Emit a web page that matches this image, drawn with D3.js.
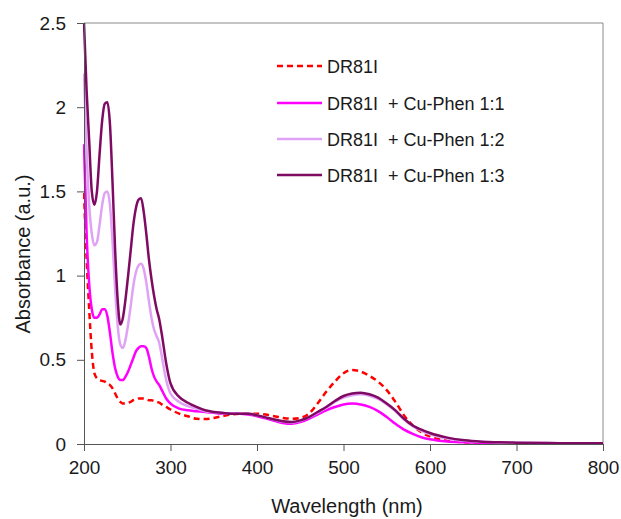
<!DOCTYPE html>
<html><head><meta charset="utf-8">
<script src="https://cdn.jsdelivr.net/npm/d3@7"></script>
<style>body{margin:0;background:#fff}svg{display:block}text{font-family:"Liberation Sans",Arial,sans-serif;fill:#1a1a1a}</style>
</head><body><svg id="c" width="621" height="519"></svg>
<script>
const wavelength = [200,203,206,209,212,215,218,221,224,227,230,233,236,239,242,245,248,251,254,257,260,263,266,269,272,275,278,281,284,287,290,295,300,310,320,330,340,350,360,370,380,390,400,410,420,430,440,450,460,470,480,490,500,510,520,530,540,550,560,570,580,590,600,620,640,660,680,700,750,800];
const dr81 = [1.49,1.1,0.8,0.55,0.42,0.39,0.38,0.375,0.37,0.36,0.35,0.33,0.3,0.27,0.25,0.24,0.24,0.245,0.25,0.26,0.265,0.27,0.27,0.27,0.265,0.26,0.26,0.255,0.25,0.245,0.235,0.22,0.205,0.18,0.165,0.15,0.148,0.155,0.165,0.175,0.18,0.18,0.18,0.175,0.165,0.155,0.15,0.155,0.18,0.24,0.31,0.37,0.42,0.44,0.43,0.405,0.37,0.32,0.25,0.17,0.11,0.07,0.045,0.02,0.01,0.007,0.005,0.004,0.003,0.003];
const cu11 = [1.78,1.25,0.95,0.8,0.75,0.75,0.77,0.8,0.8,0.76,0.66,0.54,0.45,0.4,0.38,0.38,0.4,0.43,0.47,0.51,0.55,0.57,0.58,0.58,0.57,0.52,0.45,0.4,0.37,0.35,0.32,0.27,0.24,0.21,0.2,0.195,0.19,0.185,0.18,0.18,0.18,0.175,0.165,0.152,0.138,0.125,0.12,0.13,0.15,0.175,0.2,0.22,0.235,0.24,0.235,0.22,0.195,0.16,0.12,0.085,0.06,0.04,0.028,0.015,0.01,0.007,0.005,0.004,0.003,0.003];
const cu12 = [2.2,1.75,1.42,1.25,1.18,1.2,1.3,1.42,1.49,1.5,1.42,1.2,0.92,0.7,0.59,0.57,0.62,0.71,0.82,0.94,1.02,1.06,1.07,1.04,0.96,0.85,0.75,0.68,0.64,0.6,0.52,0.38,0.3,0.25,0.225,0.21,0.195,0.188,0.183,0.18,0.18,0.18,0.17,0.158,0.145,0.133,0.128,0.138,0.158,0.185,0.215,0.25,0.275,0.29,0.295,0.287,0.268,0.235,0.195,0.145,0.105,0.078,0.058,0.033,0.02,0.013,0.009,0.007,0.005,0.004];
const cu13 = [2.5,2.1,1.8,1.5,1.42,1.5,1.72,1.92,2.02,2.03,1.9,1.55,1.15,0.85,0.71,0.75,0.86,1.0,1.15,1.3,1.4,1.45,1.46,1.38,1.25,1.1,0.98,0.88,0.8,0.74,0.65,0.48,0.36,0.28,0.245,0.22,0.2,0.19,0.185,0.18,0.18,0.18,0.17,0.158,0.145,0.135,0.13,0.14,0.16,0.19,0.22,0.255,0.285,0.3,0.305,0.295,0.275,0.24,0.2,0.15,0.11,0.085,0.065,0.038,0.022,0.014,0.01,0.008,0.005,0.004];
const seriesBase = ["DR81I","DR81I","DR81I","DR81I"];
const seriesSuffix = ["","+ Cu-Phen 1:1","+ Cu-Phen 1:2","+ Cu-Phen 1:3"];
const seriesColors = ["#ff0000","#ff00ff","#e0a2f5","#7f0a62"];
const xTicks = [200,300,400,500,600,700,800];
const yTicks = [0,0.5,1,1.5,2,2.5];
const yTickLabels = ["0","0.5","1","1.5","2","2.5"];
const xTitle = "Wavelength (nm)";
const yTitle = "Absorbance (a.u.)";

const svg = d3.select("#c");
const m = {l:84, t:23, r:18, b:75};
const W = 621 - m.l - m.r, H = 519 - m.t - m.b;
const x = d3.scaleLinear().domain([200,800]).range([0,W]);
const y = d3.scaleLinear().domain([0,2.5]).range([H,0]);
const g = svg.append("g").attr("transform",`translate(${m.l},${m.t})`);

g.append("path").attr("d",`M0,0H${W}V${H}`).attr("fill","none").attr("stroke","#8a8a8a").attr("stroke-width",1);

const series = [dr81,cu11,cu12,cu13];
const line = d3.line().x((d,i)=>x(wavelength[i])).y(d=>y(d)).curve(d3.curveMonotoneX);
svg.append("clipPath").attr("id","pc").append("rect").attr("x",-1).attr("y",-1).attr("width",W+2).attr("height",H+2);
series.forEach((s,k)=>{
  g.append("path").datum(s).attr("d",line).attr("fill","none")
   .attr("stroke",seriesColors[k]).attr("stroke-width",2.5)
   .attr("stroke-dasharray",k===0?"6,4":null).attr("clip-path","url(#pc)");
});

const xa = g.append("g").attr("transform",`translate(0,${H})`)
  .call(d3.axisBottom(x).tickValues(xTicks).tickSize(7).tickPadding(10).tickFormat(d3.format("d")));
const ya = g.append("g")
  .call(d3.axisLeft(y).tickValues(yTicks).tickSize(7).tickPadding(11).tickFormat((d,i)=>yTickLabels[i]));
[xa,ya].forEach(a=>{
  a.select(".domain").attr("stroke","#555");
  a.selectAll(".tick line").attr("stroke","#555");
  a.selectAll("text").attr("font-size",19).attr("font-family","Liberation Sans, Arial, sans-serif").attr("fill","#1a1a1a");
});

svg.append("text").attr("x",347).attr("y",513).attr("text-anchor","middle").attr("font-size",20).text(xTitle);
svg.append("text").attr("transform","translate(30,254) rotate(-90)").attr("text-anchor","middle").attr("font-size",20).text(yTitle);

const legY = [66,103,139,175];
seriesBase.forEach((n,k)=>{
  svg.append("line").attr("x1",277).attr("x2",322).attr("y1",legY[k]).attr("y2",legY[k])
    .attr("stroke",seriesColors[k]).attr("stroke-width",2.5).attr("stroke-dasharray",k===0?"6,4":null);
  const t = svg.append("text").attr("y",legY[k]+6.5).attr("font-size",18);
  t.append("tspan").attr("x",327).text(n);
  if (seriesSuffix[k]) t.append("tspan").attr("x",388).text(seriesSuffix[k]);
});
</script></body></html>
